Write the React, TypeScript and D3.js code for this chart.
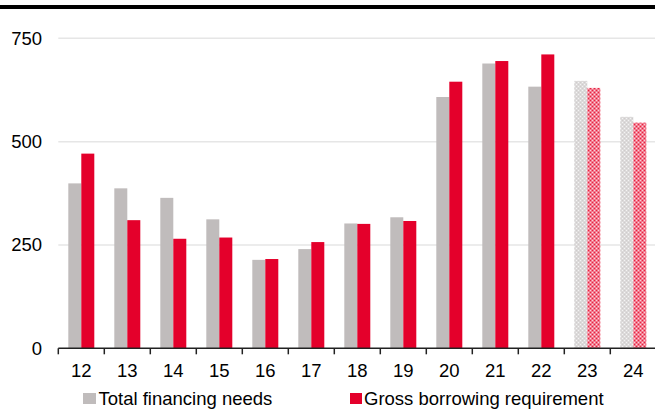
import React from "react";
import * as d3 from "d3";

const categories = ["12", "13", "14", "15", "16", "17", "18", "19", "20", "21", "22", "23", "24"];
const totalFinancingNeeds = [399, 387, 364, 312, 214, 240, 302, 317, 608, 689, 633, 647, 560];
const grossBorrowingRequirement = [471, 310, 265, 268, 216, 257, 301, 308, 645, 695, 711, 630, 546];
const forecastCategories = ["23", "24"];
const yTicks = [0, 250, 500, 750];
const seriesNames = ["Total financing needs", "Gross borrowing requirement"];

const W = 655;
const H = 410;
const GRAY = "#c0bcbc";
const RED = "#e4002b";
const FONT = "'Liberation Sans', Arial, sans-serif";
const FS = 18.5;

export default function App() {
  const x = d3.scaleBand<string>().domain(categories).range([58.3, 656.3]).paddingInner(0).paddingOuter(0);
  const x1 = d3.scaleBand<string>().domain(seriesNames).range([10, x.bandwidth() - 10]).padding(0);
  const y = d3.scaleLinear().domain([0, 750]).range([348.3, 38.3]);

  const series = [
    { name: seriesNames[0], values: totalFinancingNeeds, color: GRAY, pattern: "url(#patGray)" },
    { name: seriesNames[1], values: grossBorrowingRequirement, color: RED, pattern: "url(#patRed)" },
  ];

  return (
    <svg width={W} height={H} style={{ position: "absolute", left: 0, top: 0 }} fontFamily={FONT}>
      <defs>
        <pattern id="patGray" width="4" height="4" patternUnits="userSpaceOnUse">
          <rect width="4" height="4" fill="#dcdada" />
          <rect x="0" y="0" width="1" height="1" fill="#f4f4f4" />
          <rect x="2" y="2" width="1" height="1" fill="#f4f4f4" />
          <rect x="2" y="0" width="1" height="1" fill="#cfcccc" />
          <rect x="0" y="2" width="1" height="1" fill="#cfcccc" />
        </pattern>
        <pattern id="patRed" width="4" height="4" patternUnits="userSpaceOnUse">
          <rect width="4" height="4" fill="#f17a8e" />
          <rect x="0" y="0" width="1" height="1" fill="#fbd2da" />
          <rect x="2" y="2" width="1" height="1" fill="#fbd2da" />
          <rect x="2" y="0" width="1" height="1" fill="#e8203f" />
          <rect x="0" y="2" width="1" height="1" fill="#e8203f" />
        </pattern>
      </defs>

      <rect x={0} y={5} width={W} height={4} fill="#000" />

      {yTicks.map((t) => (
        <g key={t}>
          {t > 0 && (
            <line x1={58.3} x2={W} y1={y(t)} y2={y(t)} stroke="#e6e6e6" strokeWidth={1.5} />
          )}
          <text x={42} y={y(t) + 6.5} textAnchor="end" fontSize={FS} fill="#000">
            {t}
          </text>
        </g>
      ))}

      {series.map((s) =>
        categories.map((c, i) => {
          const forecast = forecastCategories.includes(c);
          const x0 = (x(c) as number) + (x1(s.name) as number);
          return (
            <rect
              key={s.name + c}
              x={x0}
              y={y(s.values[i])}
              width={x1.bandwidth()}
              height={y(0) - y(s.values[i])}
              fill={forecast ? s.pattern : s.color}
            />
          );
        })
      )}

      <line x1={58.3} x2={W} y1={y(0)} y2={y(0)} stroke="#222" strokeWidth={1.5} />
      {categories.map((c) => (
        <line key={"t" + c} x1={x(c) as number} x2={x(c) as number} y1={y(0)} y2={y(0) + 6} stroke="#222" strokeWidth={1.5} />
      ))}
      {categories.map((c) => (
        <text
          key={"l" + c}
          x={(x(c) as number) + x.bandwidth() / 2}
          y={376.7}
          textAnchor="middle"
          fontSize={FS}
          fill="#000"
        >
          {c}
        </text>
      ))}

      <rect x={83} y={393} width={13} height={11} fill={GRAY} />
      <text x={98.5} y={405} fontSize={FS} fill="#000">
        {seriesNames[0]}
      </text>
      <rect x={350} y={393} width={12} height={11} fill={RED} />
      <text x={364} y={405} fontSize={FS} fill="#000">
        {seriesNames[1]}
      </text>
    </svg>
  );
}
